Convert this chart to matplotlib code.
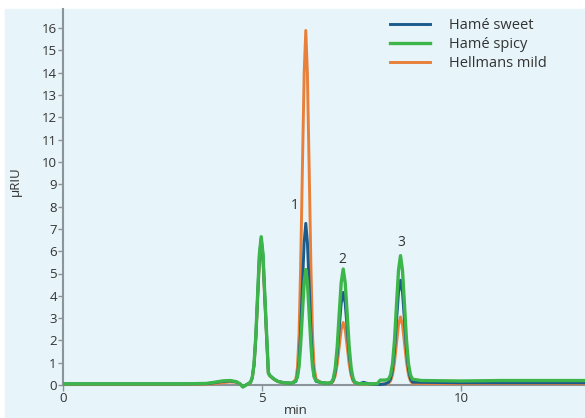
import matplotlib
matplotlib.use('Agg')
import matplotlib.pyplot as plt
from matplotlib.patches import Rectangle

# retention time (min)
times = [0, 1, 2, 3, 3.6, 3.8, 4.0, 4.2, 4.35, 4.45, 4.52, 4.6,
         4.71, 4.755, 4.80, 4.845, 4.89, 4.935, 4.98, 5.025, 5.07, 5.115, 5.16, 5.2, 5.3, 5.4, 5.55, 5.75,
         5.85, 5.89, 5.93, 5.97, 6.015, 6.06, 6.10, 6.14, 6.185, 6.23, 6.27, 6.31, 6.36, 6.5, 6.65,
         6.74, 6.79, 6.84, 6.89, 6.94, 6.99, 7.04, 7.09, 7.14, 7.19, 7.24, 7.29, 7.34,
         7.45, 7.55, 7.7, 7.9, 7.97, 8.1,
         8.18, 8.23, 8.28, 8.33, 8.38, 8.43, 8.48, 8.53, 8.58, 8.63, 8.68, 8.73, 8.78,
         9.0, 10, 11, 12, 13.2]

hame_sweet = [.05, .05, .05, .05, .06, .1, .16, .18, .14, .05, -.08, 0,
              .12, .34, .93, 2.18, 4.0, 5.8, 6.55, 5.8, 4.0, 2.25, .55, .42, .27, .16, .1, .08,
              .16, .4, 1.05, 2.42, 4.45, 6.43, 7.25, 6.43, 4.45, 2.42, 1.05, .4, .16, .1, .08,
              .1, .23, .6, 1.38, 2.54, 3.67, 4.15, 3.67, 2.54, 1.38, .6, .23, .1,
              .06, .12, .05, .03, .02, .05,
              .13, .28, .70, 1.58, 2.88, 4.15, 4.7, 4.15, 2.88, 1.58, .70, .28, .13,
              .12, .1, .1, .1, .1]

hame_spicy = [.05, .05, .05, .05, .07, .12, .18, .2, .15, .05, -.09, 0,
              .12, .32, .93, 2.2, 4.04, 5.87, 6.65, 5.87, 4.04, 2.3, .55, .42, .27, .16, .1, .08,
              .19, .36, .82, 1.79, 3.22, 4.63, 5.18, 4.63, 3.22, 1.79, .82, .36, .19, .1, .08,
              .11, .28, .75, 1.72, 3.18, 4.59, 5.2, 4.59, 3.18, 1.72, .75, .28, .11,
              .06, .06, .05, .06, .22, .22,
              .26, .45, .96, 2.02, 3.6, 5.14, 5.8, 5.14, 3.6, 2.02, .96, .45, .26,
              .2, .18, .2, .2, .2]

hellmans_mild = [.03, .03, .03, .03, .04, .06, .1, .14, .12, .05, -.08, 0,
                 .1, .3, .87, 2.05, 3.8, 5.5, 6.2, 5.5, 3.8, 2.1, .5, .4, .25, .15, .1, .07,
                 .25, .78, 2.22, 5.23, 9.7, 14.03, 15.9, 14.03, 9.7, 5.23, 2.22, .78, .25, .1, .07,
                 .08, .17, .42, .94, 1.72, 2.48, 2.8, 2.48, 1.72, .94, .42, .17, .08,
                 .05, .05, .04, .04, .04, .05,
                 .08, .18, .46, 1.03, 1.87, 2.70, 3.05, 2.70, 1.87, 1.03, .46, .18, .08,
                 .07, .06, .07, .07, .06]

peak_labels = ['1', '2', '3']
peak_label_pos = [(5.83, 8.07), (7.03, 5.65), (8.49, 6.37)]

BG = '#e7f4f9'
AXIS = '#8a949a'
TEXT = '#333333'
plt.rcParams['font.family'] = ['Open Sans', 'DejaVu Sans']

fig = plt.figure(figsize=(5.85, 4.18), dpi=100)
fig.patches.append(Rectangle((5 / 585, 0), 1, 1 - 9 / 418, transform=fig.transFigure,
                             color=BG, zorder=-1))

ax = fig.add_axes([63 / 585, 23 / 418, 522 / 585, 386 / 418])
ax.set_facecolor('none')

l_orange, = ax.plot(times, hellmans_mild, color='#e8803a', lw=2.1, label='Hellmans mild', zorder=3)
l_blue, = ax.plot(times, hame_sweet, color='#1b5b8c', lw=2.1, label='Hamé sweet', zorder=4)
l_green, = ax.plot(times, hame_spicy, color='#3cb54a', lw=2.4, label='Hamé spicy', zorder=5)

for lab, (x, y) in zip(peak_labels, peak_label_pos):
    ax.text(x, y, lab, ha='center', va='center', fontsize=10, color=TEXT)

ax.set_xlim(0, 522 / 39.8)
ax.set_ylim(-10 / 22.3, 376 / 22.3)
ax.set_xticks([0, 5, 10])
ax.set_yticks(range(0, 17))

for s in ['top', 'right']:
    ax.spines[s].set_visible(False)
ax.spines['bottom'].set_position(('data', 0))
ax.spines['left'].set_bounds(0, 376 / 22.3)
for s in ['left', 'bottom']:
    ax.spines[s].set_color(AXIS)
    ax.spines[s].set_linewidth(1.5)
    ax.spines[s].set_zorder(2)
ax.tick_params(axis='y', length=3.5, width=1, color=AXIS, labelsize=9.5, labelcolor=TEXT, pad=1)
ax.tick_params(axis='x', length=4, width=1, color=AXIS, labelsize=9.5, labelcolor=TEXT, pad=1)

fig.text(15 / 585, 1 - 181 / 418, 'µRIU', rotation=90, ha='center', va='center',
         fontsize=9.5, color=TEXT)
fig.text(296 / 585, 1 / 418, 'min', ha='center', va='bottom', fontsize=9.5, color=TEXT)

ax.legend(handles=[l_blue, l_green, l_orange], loc='upper left',
          bbox_to_anchor=(390 / 585, 1 - 18 / 418), bbox_transform=fig.transFigure,
          frameon=False, fontsize=10.5, handlelength=2.75, handletextpad=1.3,
          labelspacing=0.28, borderpad=0, borderaxespad=0, labelcolor=TEXT)

fig.savefig('out.png', dpi=100)
